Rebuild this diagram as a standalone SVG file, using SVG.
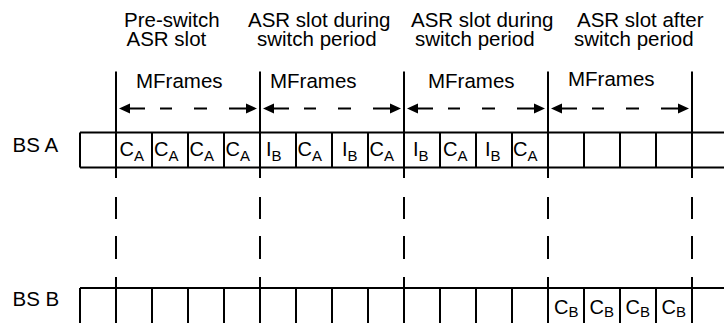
<svg xmlns="http://www.w3.org/2000/svg" width="724" height="323" viewBox="0 0 724 323">
<defs>
<style>
text{font-family:"Liberation Sans",Arial,sans-serif;fill:#000}
.lbl{font-size:20.5px}
.cell{font-size:20px}
.sub{font-size:15px}
.ln{stroke:#000;stroke-width:2;fill:none}
.dash{stroke:#000;stroke-width:2;fill:none}
.head{fill:#000;stroke:none}
</style>
<g id="arrow">
<polygon class="head" points="3,0 14,-5 14,5"/>
<path class="dash" d="M14 0 H29 M44 0 H56 M78 0 H91 M113 0 H130"/>
<polygon class="head" points="141,0 130,-5 130,5"/>
</g>
</defs>
<g id="headers">
<text class="lbl" x="124" y="27">Pre-switch</text>
<text class="lbl" x="126.5" y="46">ASR slot</text>
<text class="lbl" x="248" y="27">ASR slot during</text>
<text class="lbl" x="257" y="46">switch period</text>
<text class="lbl" x="411" y="27">ASR slot during</text>
<text class="lbl" x="415" y="46">switch period</text>
<text class="lbl" x="577" y="27">ASR slot after</text>
<text class="lbl" x="574" y="46">switch period</text>
</g>
<g id="mframes">
<text class="lbl" x="136" y="87.5">MFrames</text>
<text class="lbl" x="270" y="87.5">MFrames</text>
<text class="lbl" x="428" y="87.5">MFrames</text>
<text class="lbl" x="568" y="85.5">MFrames</text>
</g>
<g id="connectors">
<path class="ln" d="M116 71.5 V178 M116 197 V219 M116 236 V259 M116 277 V323"/>
<path class="ln" d="M260 71.5 V178 M260 197 V219 M260 236 V259 M260 277 V323"/>
<path class="ln" d="M404 71.5 V178 M404 197 V219 M404 236 V259 M404 277 V323"/>
<path class="ln" d="M548 71.5 V178 M548 197 V219 M548 236 V259 M548 277 V323"/>
<path class="ln" d="M692 71.5 V178 M692 197 V219 M692 236 V259 M692 277 V323"/>
<use href="#arrow" x="116" y="108.5"/>
<use href="#arrow" x="260" y="108.5"/>
<use href="#arrow" x="404" y="108.5"/>
<use href="#arrow" x="548" y="108.5"/>
</g>
<g id="bsA">
<text class="lbl" x="12.5" y="151.5">BS A</text>
<path class="ln" d="M80 132.5 H724 M80 167.5 H724 M80 132.5 V167.5 M152 132.5 V167.5 M188 132.5 V167.5 M224 132.5 V167.5 M296 132.5 V167.5 M332 132.5 V167.5 M368 132.5 V167.5 M440 132.5 V167.5 M476 132.5 V167.5 M512 132.5 V167.5 M584 132.5 V167.5 M620 132.5 V167.5 M656 132.5 V167.5"/>
<text class="cell" x="119.5" y="156">C<tspan class="sub" dy="4.5">A</tspan></text>
<text class="cell" x="154" y="156">C<tspan class="sub" dy="4.5">A</tspan></text>
<text class="cell" x="189.5" y="156">C<tspan class="sub" dy="4.5">A</tspan></text>
<text class="cell" x="225.5" y="156">C<tspan class="sub" dy="4.5">A</tspan></text>
<text class="cell" x="266" y="156">I<tspan class="sub" dy="4.5">B</tspan></text>
<text class="cell" x="297.5" y="156">C<tspan class="sub" dy="4.5">A</tspan></text>
<text class="cell" x="342" y="156">I<tspan class="sub" dy="4.5">B</tspan></text>
<text class="cell" x="369.5" y="156">C<tspan class="sub" dy="4.5">A</tspan></text>
<text class="cell" x="413" y="156">I<tspan class="sub" dy="4.5">B</tspan></text>
<text class="cell" x="443" y="156">C<tspan class="sub" dy="4.5">A</tspan></text>
<text class="cell" x="485" y="156">I<tspan class="sub" dy="4.5">B</tspan></text>
<text class="cell" x="513" y="156">C<tspan class="sub" dy="4.5">A</tspan></text>
</g>
<g id="bsB">
<text class="lbl" x="12.5" y="305.5">BS B</text>
<path class="ln" d="M80 288 H724 M80 288 V323 M152 288 V323 M188 288 V323 M224 288 V323 M296 288 V323 M332 288 V323 M368 288 V323 M440 288 V323 M476 288 V323 M512 288 V323 M584 288 V323 M620 288 V323 M656 288 V323"/>
<text class="cell" x="554" y="313.5">C<tspan class="sub" dy="3">B</tspan></text>
<text class="cell" x="589.5" y="313.5">C<tspan class="sub" dy="3">B</tspan></text>
<text class="cell" x="625.5" y="313.5">C<tspan class="sub" dy="3">B</tspan></text>
<text class="cell" x="661.5" y="313.5">C<tspan class="sub" dy="3">B</tspan></text>
</g>
</svg>
